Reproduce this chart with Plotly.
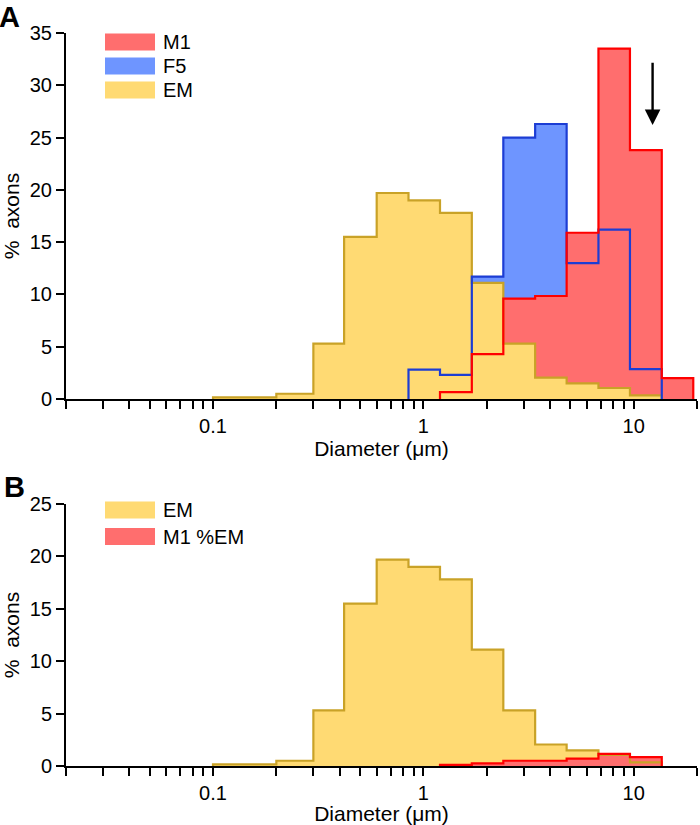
import math
import plotly.graph_objects as go

# ---- data ----
edges = [0.1, 0.2, 0.3, 0.42, 0.6, 0.85, 1.2, 1.7, 2.4, 3.4, 4.8, 6.8, 9.6, 13.6, 19.2]

em_values = [0.15, 0.5, 5.3, 15.5, 19.7, 19.0, 17.8, 11.1, 5.3, 2.05, 1.5, 1.05, 0.35, 0.0]
f5_values = [0, 0, 0, 0, 0, 2.8, 2.3, 11.7, 25.0, 26.3, 13.0, 16.2, 2.85, 0.0]
m1_values = [0, 0, 0, 0, 0, 0, 0.65, 4.3, 9.6, 9.85, 15.9, 33.5, 23.8, 2.0]
m1_em_values = [0, 0, 0, 0, 0, 0, 0.1, 0.25, 0.5, 0.5, 0.7, 1.15, 0.85, 0.0]

x_tickvals = [0.02, 0.03, 0.04, 0.05, 0.06, 0.07, 0.08, 0.09,
              0.1, 0.2, 0.3, 0.4, 0.5, 0.6, 0.7, 0.8, 0.9,
              1, 2, 3, 4, 5, 6, 7, 8, 9, 10, 20]
x_labels = {0.1: "0.1", 1: "1", 10: "10"}
top_yticks = [0, 5, 10, 15, 20, 25, 30, 35]
bot_yticks = [0, 5, 10, 15, 20, 25]
arrow_x = 12.3
arrow_y = (32.3, 26.2)

# ---- styles ----
RED_FILL, RED_LINE = "#FF6E6E", "#FF0000"
BLUE_FILL, BLUE_LINE = "#6E95FF", "#1C3DD4"
YEL_FILL, YEL_LINE = "#FFDA73", "#C9A227"
FONT = "Liberation Sans, Arial, sans-serif"
FS = 20

W, H = 700, 825
L, R, T, B = 66, 3, 33, 59
PW, PH = W - L - R, H - T - B


def px_x(px):
    return (px - L) / PW


def px_y(py):
    return (H - B - py) / PH


def step_xy(values):
    idx = [i for i, v in enumerate(values) if v > 0]
    i0, i1 = idx[0], idx[-1]
    xs = [edges[i0]]
    ys = [0]
    for i in range(i0, i1 + 1):
        xs.append(edges[i])
        ys.append(values[i])
    xs.append(edges[i1 + 1])
    ys.append(0)
    return xs, ys


fig = go.Figure()


def add_fill(values, color, xa, ya):
    xs, ys = step_xy(values)
    fig.add_trace(go.Scatter(x=xs, y=ys, mode="lines", line=dict(shape="hv", width=0, color=color),
                             fill="tozeroy", fillcolor=color, xaxis=xa, yaxis=ya,
                             showlegend=False, hoverinfo="skip"))


def add_line(values, color, xa, ya):
    xs, ys = step_xy(values)
    fig.add_trace(go.Scatter(x=xs, y=ys, mode="lines", line=dict(shape="hv", width=2.2, color=color),
                             xaxis=xa, yaxis=ya, showlegend=False, hoverinfo="skip"))


# Panel A
add_fill(f5_values, BLUE_FILL, "x", "y")
add_fill(m1_values, RED_FILL, "x", "y")
add_fill(em_values, YEL_FILL, "x", "y")
add_line(em_values, YEL_LINE, "x", "y")
add_line(f5_values, BLUE_LINE, "x", "y")
add_line(m1_values, RED_LINE, "x", "y")

# Panel B
add_fill(em_values, YEL_FILL, "x2", "y2")
add_fill(m1_em_values, RED_FILL, "x2", "y2")
add_line(em_values, YEL_LINE, "x2", "y2")
add_line(m1_em_values, RED_LINE, "x2", "y2")

xrange = [math.log10(0.02), math.log10(20)]
ticktext = [x_labels.get(v, "") for v in x_tickvals]

xcommon = dict(type="log", range=xrange, tickmode="array", tickvals=x_tickvals, ticktext=ticktext,
               ticks="outside", ticklen=8, tickwidth=2, tickcolor="black", automargin=False,
               showline=True, linecolor="black", linewidth=2, showgrid=False, zeroline=False,
               tickfont=dict(family=FONT, size=FS, color="black"),
               title=dict(text="Diameter (\u03bcm)", font=dict(family=FONT, size=21, color="black"), standoff=4))
ycommon = dict(ticks="outside", ticklen=8, tickwidth=2, tickcolor="black", automargin=False,
               showline=True, linecolor="black", linewidth=2, showgrid=False, zeroline=False,
               tickfont=dict(family=FONT, size=FS, color="black"),
               title=dict(text="%  axons", font=dict(family=FONT, size=21, color="black"), standoff=8))

top_dom = [px_y(399), 1.0]
bot_dom = [0.0, px_y(504)]

fig.update_layout(
    width=W, height=H,
    margin=dict(l=L, r=R, t=T, b=B, autoexpand=False),
    paper_bgcolor="white", plot_bgcolor="white",
    xaxis=dict(**xcommon, anchor="y"),
    yaxis=dict(**ycommon, domain=top_dom, range=[0, 35], tickvals=top_yticks, anchor="x"),
    xaxis2=dict(**xcommon, anchor="y2"),
    yaxis2=dict(**ycommon, domain=bot_dom, range=[0, 25], tickvals=bot_yticks, anchor="x2"),
    showlegend=False,
)

# arrow
fig.add_annotation(x=math.log10(arrow_x), y=arrow_y[1], ax=math.log10(arrow_x), ay=arrow_y[0],
                   xref="x", yref="y", axref="x", ayref="y", showarrow=True, text="",
                   arrowhead=2, arrowsize=1.3, arrowwidth=2.4, arrowcolor="black")

# panel letters
fig.add_annotation(x=px_x(-2), y=px_y(0), xref="paper", yref="paper", text="<b>A</b>", showarrow=False,
                   xanchor="left", yanchor="top", borderpad=0, font=dict(family=FONT, size=29, color="black"))
fig.add_annotation(x=px_x(2), y=px_y(487), xref="paper", yref="paper", text="<b>B</b>", showarrow=False,
                   xanchor="left", yanchor="middle", font=dict(family=FONT, size=29, color="black"))


def legend_item(cy, color, label):
    fig.add_shape(type="rect", xref="paper", yref="paper",
                  x0=px_x(105), x1=px_x(155), y0=px_y(cy + 8.5), y1=px_y(cy - 8.5),
                  fillcolor=color, line=dict(width=0))
    fig.add_annotation(x=px_x(161), y=px_y(cy), xref="paper", yref="paper", text=label, showarrow=False,
                       xanchor="left", yanchor="middle", font=dict(family=FONT, size=FS, color="black"))


legend_item(42, RED_FILL, "M1")
legend_item(66, BLUE_FILL, "F5")
legend_item(90, YEL_FILL, "EM")
legend_item(510, YEL_FILL, "EM")
legend_item(536.5, RED_FILL, "M1 %EM")

fig.write_html("out.html", config={"displayModeBar": False},
               post_script="document.body.style.margin='0';document.body.style.padding='0';")
